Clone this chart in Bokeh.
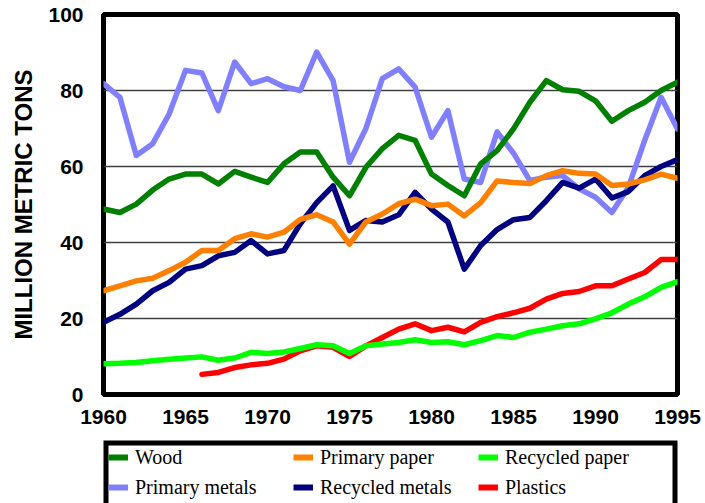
from bokeh.plotting import figure
from bokeh.layouts import column
from bokeh.models import Legend, LegendItem, FixedTicker, Range1d
from bokeh.embed import file_html
from bokeh.resources import INLINE

years = list(range(1960, 1996))
plastics_years = list(range(1966, 1996))

wood = [48.8, 47.9, 50.1, 53.8, 56.7, 58.0, 58.0, 55.4, 58.7, 57.2,
        55.8, 60.7, 63.8, 63.8, 57.2, 52.3, 59.8, 64.7, 68.2, 66.9,
        58.0, 55.0, 52.3, 60.7, 64.2, 69.9, 76.9, 82.6, 80.2, 79.8,
        77.3, 71.9, 74.7, 76.9, 80.0, 82.2]
primary_paper = [27.3, 28.6, 29.9, 30.6, 32.6, 34.8, 37.9, 37.9, 41.0, 42.3,
                 41.4, 42.7, 46.1, 47.3, 45.4, 39.6, 45.4, 47.5, 50.2, 51.4,
                 49.7, 50.1, 47.0, 50.5, 56.2, 55.8, 55.5, 57.6, 58.9, 58.2,
                 58.0, 55.0, 55.4, 56.5, 58.0, 56.9]
recycled_paper = [8.1, 8.2, 8.4, 8.9, 9.3, 9.6, 9.9, 9.0, 9.6, 11.1,
                  10.8, 11.2, 12.1, 13.1, 12.8, 10.8, 12.8, 13.3, 13.7, 14.4,
                  13.7, 13.9, 13.1, 14.2, 15.5, 15.0, 16.4, 17.2, 18.1, 18.6,
                  19.9, 21.5, 23.8, 25.7, 28.2, 29.7]
primary_metals = [81.8, 78.2, 62.9, 66.0, 73.8, 85.3, 84.6, 74.7, 87.5, 81.8,
                  83.1, 81.0, 80.0, 90.1, 82.6, 61.1, 70.0, 83.1, 85.7, 80.9,
                  67.7, 74.7, 56.7, 55.8, 69.1, 63.5, 56.3, 57.2, 57.6, 54.1,
                  51.9, 47.9, 54.5, 66.9, 78.2, 69.9]
recycled_metals = [19.0, 21.1, 23.8, 27.3, 29.5, 33.0, 33.9, 36.5, 37.4, 40.5,
                   37.0, 37.9, 44.9, 50.5, 54.9, 43.2, 45.8, 45.4, 47.3, 53.2,
                   48.8, 45.4, 33.0, 39.2, 43.4, 46.0, 46.6, 51.0, 55.8, 54.3,
                   56.7, 51.7, 53.4, 57.6, 60.0, 61.8]
plastics = [5.3, 5.8, 7.1, 7.8, 8.2, 9.3, 11.5, 12.8, 12.4, 10.0,
            12.8, 15.0, 17.2, 18.6, 16.8, 17.7, 16.5, 19.0, 20.5, 21.5,
            22.7, 25.1, 26.6, 27.1, 28.6, 28.6, 30.4, 32.1, 35.5, 35.5]

x_ticks = [1960, 1965, 1970, 1975, 1980, 1985, 1990, 1995]
y_ticks = [0, 20, 40, 60, 80, 100]

names = ["Wood", "Primary paper", "Recycled paper",
         "Primary metals", "Recycled metals", "Plastics"]
colors = {"Wood": "#008000", "Primary paper": "#FF8000",
          "Recycled paper": "#00FF00", "Primary metals": "#8080FF",
          "Recycled metals": "#000080", "Plastics": "#FF0000"}

series = {
    "Primary metals": (years, primary_metals),
    "Wood": (years, wood),
    "Recycled metals": (years, recycled_metals),
    "Primary paper": (years, primary_paper),
    "Plastics": (plastics_years, plastics),
    "Recycled paper": (years, recycled_paper),
}

# ---- main chart ----
p = figure(width=703, height=436,
           x_range=Range1d(1960, 1995), y_range=Range1d(0, 100),
           output_backend="svg", toolbar_location=None,
           min_border_left=102, min_border_right=25,
           min_border_top=14, min_border_bottom=42)

p.outline_line_width = 5
p.outline_line_color = "black"
p.outline_line_alpha = 1.0
p.background_fill_color = "white"
p.border_fill_color = "white"

p.xgrid.grid_line_color = None
p.ygrid.grid_line_color = "#404040"
p.ygrid.grid_line_width = 1.3
p.ygrid.ticker = FixedTicker(ticks=y_ticks)

p.xaxis.ticker = FixedTicker(ticks=x_ticks)
p.yaxis.ticker = FixedTicker(ticks=y_ticks)
for ax in (p.xaxis, p.yaxis):
    ax.axis_line_color = None
    ax.major_tick_line_color = None
    ax.minor_tick_line_color = None
    ax.major_label_text_font = "Liberation Sans"
    ax.major_label_text_font_size = "21px"
    ax.major_label_text_font_style = "bold"
    ax.major_label_text_color = "black"
p.yaxis.major_label_standoff = 14
p.xaxis.major_label_standoff = 9
p.yaxis.axis_label = "MILLION METRIC TONS"
p.yaxis.axis_label_text_font = "Liberation Sans"
p.yaxis.axis_label_text_font_size = "24px"
p.yaxis.axis_label_text_font_style = "bold"
p.yaxis.axis_label_text_color = "black"
p.yaxis.axis_label_standoff = 8

for name, (xs, ys) in series.items():
    p.line(xs, ys, line_color=colors[name], line_width=5.5,
           line_join="round", line_cap="round")

# ---- legend strip ----
lg = figure(width=703, height=67, x_range=Range1d(0, 1), y_range=Range1d(0, 1),
            output_backend="svg", toolbar_location=None,
            x_axis_type=None, y_axis_type=None,
            min_border_left=103, min_border_right=26,
            min_border_top=4, min_border_bottom=0)
lg.outline_line_color = None
lg.xgrid.grid_line_color = None
lg.ygrid.grid_line_color = None
lg.background_fill_color = "white"
lg.border_fill_color = "white"

# legend box: a frame-filling rectangle (its lower edge falls below the page)
lg.quad(left=[0], right=[1], top=[1], bottom=[-1],
        fill_color=None, line_color="black", line_width=10)

# series lines lie outside this strip's view; only their legend entries show
lg_renderers = {}
for name, (xs, ys) in series.items():
    lg_renderers[name] = lg.line(xs, ys, line_color=colors[name], line_width=6)

legend = Legend(
    items=[LegendItem(label=n, renderers=[lg_renderers[n]]) for n in names],
    location="top_left", orientation="horizontal", ncols=3,
    label_text_font="Liberation Serif", label_text_font_size="20px",
    label_text_color="black",
    label_width=152, label_height=24, glyph_width=20, glyph_height=24,
    label_standoff=7, spacing=6, padding=0, margin=5,
    border_line_color=None,
    background_fill_alpha=0.0)
lg.add_layout(legend)

layout = column(p, lg, spacing=0)
open("out.html", "w").write(file_html(layout, INLINE))
